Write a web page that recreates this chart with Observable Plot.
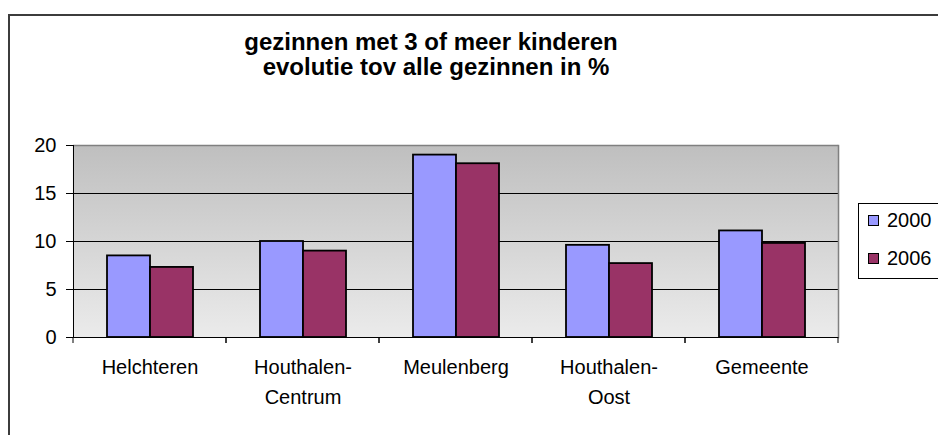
<!DOCTYPE html>
<html>
<head>
<meta charset="utf-8">
<script src="https://cdn.jsdelivr.net/npm/d3@7"></script>
<script src="https://cdn.jsdelivr.net/npm/@observablehq/plot@0.6"></script>
<style>
  html, body { margin: 0; padding: 0; background: #fff; overflow: hidden; }
  #wrap { position: relative; width: 938px; height: 435px; overflow: hidden; font-family: Arial, "Liberation Sans", sans-serif; }
  #border { position: absolute; left: 8px; top: 14px; width: 1000px; height: 600px; border-left: 2px solid #3c3c3c; border-top: 2px solid #3c3c3c; box-sizing: border-box; }
  #title { position: absolute; left: 0; top: 29px; width: 862px; text-align: center; font-weight: bold; font-size: 24px; line-height: 25px; color: #000; }
  #title .l2 { padding-left: 10px; }
  #chart { position: absolute; left: 0; top: 0; }
  #legend { position: absolute; left: 858px; top: 203px; width: 100px; height: 76px; border: 1px solid #000; box-sizing: border-box; background: #fff; font-size: 20px; }
  #legend .item { position: absolute; left: 9px; display: flex; align-items: center; }
  #legend .sw { width: 11px; height: 11px; border: 1.5px solid #000; margin-right: 8px; box-sizing: border-box; }
</style>
</head>
<body>
<div id="wrap">
  <div id="border"></div>
  <div id="title"><div>gezinnen met 3 of meer kinderen</div><div class="l2">evolutie tov alle gezinnen in %</div></div>
  <div id="chart"></div>
  <div id="legend"></div>
</div>
<script>
const categories = ["Helchteren", "Houthalen-Centrum", "Meulenberg", "Houthalen-Oost", "Gemeente"];
const years = ["2000", "2006"];
const values2000 = [8.5, 10.0, 19.0, 9.6, 11.1];
const values2006 = [7.3, 9.0, 18.1, 7.7, 9.8];
const colors = ["#9999ff", "#993366"];
const yTicks = [0, 5, 10, 15, 20];

const data = [];
categories.forEach((c, i) => {
  data.push({cat: c, year: years[0], value: values2000[i]});
  data.push({cat: c, year: years[1], value: values2006[i]});
});

function edgeTicks(index, scales, values, dims) {
  const g = d3.create("svg:g").attr("stroke", "#000").attr("stroke-width", 1);
  const yb = dims.height - dims.marginBottom;
  for (const x of [dims.marginLeft, dims.width - dims.marginRight]) {
    g.append("line").attr("x1", x).attr("x2", x).attr("y1", yb).attr("y2", yb + 6);
  }
  return g.node();
}

const chart = Plot.plot({
  width: 938,
  height: 435,
  marginLeft: 72,
  marginRight: 100,
  marginTop: 145,
  marginBottom: 98,
  style: {fontFamily: 'Arial, "Liberation Sans", sans-serif', fontSize: "20px", color: "#000", background: "transparent"},
  fx: {domain: categories, padding: 0, label: null},
  x: {domain: years, paddingInner: 0, paddingOuter: 0.75, axis: null},
  y: {domain: [0, 20], label: null},
  color: {domain: years, range: colors},
  marks: [
    Plot.frame({fill: "url(#bggrad)", stroke: null, insetLeft: -0.6, insetRight: -0.6}),
    Plot.ruleY(yTicks.filter(d => d > 0 && d < 20), {stroke: "#000", strokeWidth: 1}),
    Plot.ruleY([20], {stroke: "#808080", strokeWidth: 1.5}),
    Plot.frame({anchor: "right", stroke: "#808080", strokeWidth: 1.5, facetAnchor: "right"}),
    Plot.barY(data, {fx: "cat", x: "year", y: "value", fill: "year", stroke: "#000", strokeWidth: 1.8}),
    Plot.ruleY([0], {stroke: "#000", strokeWidth: 1}),
    Plot.frame({anchor: "left", stroke: "#000", strokeWidth: 1, facetAnchor: "left"}),
    edgeTicks,
    Plot.axisY({ticks: yTicks, tickSize: 7, tickPadding: 10, label: null, stroke: "#000", fill: "#000"}),
    Plot.axisFx({anchor: "bottom", tickSize: 0, tickPadding: 15, lineHeight: 1.5, label: null, fill: "#000",
      tickFormat: d => d.replace("-", "-\n")})
  ]
});

chart.insertAdjacentHTML("afterbegin",
  '<defs><linearGradient id="bggrad" x1="0" y1="0" x2="0" y2="1">' +
  '<stop offset="0" stop-color="#bfbfbf"/><stop offset="1" stop-color="#ebebeb"/></linearGradient></defs>');
document.getElementById("chart").appendChild(chart);

const legend = document.getElementById("legend");
years.forEach((y, i) => {
  const it = document.createElement("div");
  it.className = "item";
  it.style.top = (i === 0 ? 5 : 43) + "px";
  it.innerHTML = `<span class="sw" style="background:${colors[i]}"></span><span>${y}</span>`;
  legend.appendChild(it);
});
</script>
</body>
</html>
